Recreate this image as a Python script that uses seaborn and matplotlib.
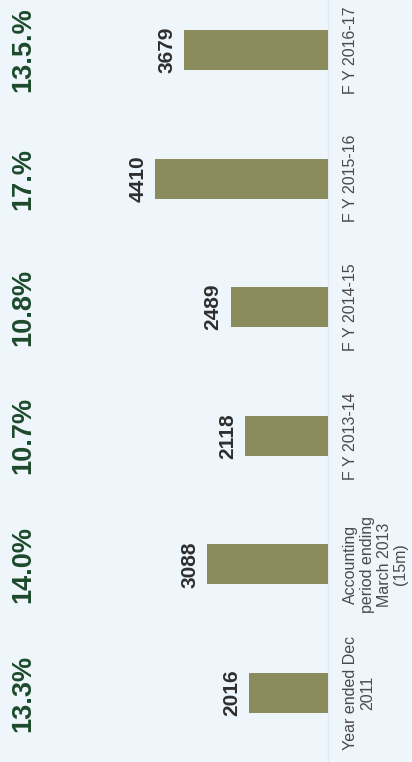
import pandas as pd
import matplotlib
matplotlib.use('Agg')
import matplotlib.pyplot as plt
import matplotlib.transforms as mtrans
import seaborn as sns

# 데이터 (아래에서 위로: 첫 항목이 맨 아래)
periods = ['Year ended Dec\n2011',
           'Accounting\nperiod ending\nMarch 2013\n(15m)',
           'F Y 2013-14',
           'F Y 2014-15',
           'F Y 2015-16',
           'F Y 2016-17']
revenue = [2016, 3088, 2118, 2489, 4410, 3679]
margin_labels = ['13.3%', '14.0%', '10.7%', '10.8%', '17.%', '13.5.%']

bg = '#eef5fb'
bar_color = '#8a8c5d'

sns.set_theme(style='white')
plt.rcParams['font.family'] = ['Liberation Sans', 'DejaVu Sans']

df = pd.DataFrame({'period': periods, 'revenue': revenue})

fig = plt.figure(figsize=(4.12, 7.62), dpi=100, facecolor=bg)
ax = fig.add_axes([0, 0, 1, 1])
ax.set_facecolor(bg)

sns.barplot(data=df, x='revenue', y='period', orient='h', color=bar_color,
            saturation=1, width=0.31, linewidth=0, edgecolor='none', ax=ax)

# 막대가 왼쪽으로 자라도록 x축 반전
ax.set_xlim(8380, -2146)
ax.set_ylim(-0.537, 5.389)
ax.axvline(0, color='#e2eaf1', lw=1, zorder=0)

trans = mtrans.blended_transform_factory(ax.transAxes, ax.transData)
for i, (val, pct, lab) in enumerate(zip(revenue, margin_labels, periods)):
    ax.annotate(str(val), xy=(val, i), xytext=(-8, 0), textcoords='offset pixels',
                rotation=90, ha='right', va='center', fontsize=15,
                fontweight='bold', color='#2e2e2e')
    ax.annotate(lab, xy=(0, i), xytext=(15, 0), textcoords='offset pixels',
                rotation=90, ha='left', va='center', fontsize=11.5,
                color='#4a4a4a', multialignment='center', linespacing=1.15)
    ax.text(0.056, i, pct, transform=trans, rotation=90, ha='center',
            va='center', fontsize=19.5, fontweight='bold', color='#1c4a2c')

ax.set_xlabel('')
ax.set_ylabel('')
ax.set_xticks([])
ax.set_yticks([])
for s in ax.spines.values():
    s.set_visible(False)

fig.savefig('out.png', dpi=100, facecolor=bg)
